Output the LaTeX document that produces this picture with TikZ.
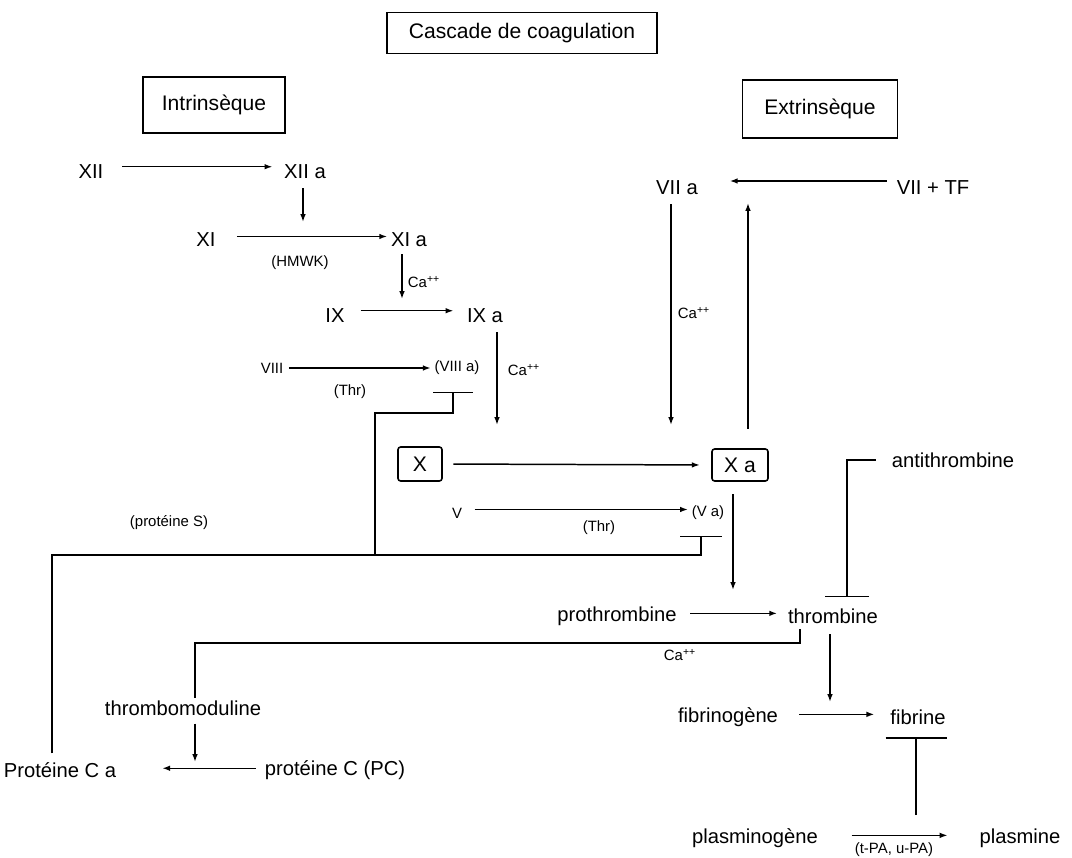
\documentclass[tikz,border=0pt]{standalone}
\usepackage{fontspec}
\setmainfont{Liberation Sans}
\usetikzlibrary{arrows.meta,calc}
\begin{document}
\begin{tikzpicture}[x=0.02cm,y=-0.02cm,
  lab/.style={inner sep=1pt,font=\fontsize{11.5}{13}\selectfont},
  sm/.style={inner sep=1pt,font=\fontsize{8.5}{10}\selectfont},
  hdr/.style={draw,line width=0.9pt,inner sep=0pt,font=\fontsize{12}{14}\selectfont},
  fbox/.style={draw,line width=0.9pt,rounded corners=1.5pt,inner sep=0pt,font=\fontsize{12}{14}\selectfont},
  rxn/.style={line width=0.85pt,-{Latex[length=4.5pt,width=3.2pt]}},
  inh/.style={line width=0.85pt}]
\useasboundingbox (0,0) rectangle (1072,858);

% header boxes
\node[hdr,minimum width=5.4cm,minimum height=0.82cm] (title) at (522,33) {Cascade de coagulation};
\node[hdr,minimum width=2.84cm,minimum height=1.12cm] (intr) at (214,105) {Intrinsèque};
\node[hdr,minimum width=3.1cm,minimum height=1.16cm] (extr) at (820,109) {Extrinsèque};

% intrinsic pathway
\node[lab] (XII) at (91,172) {XII};
\node[lab] (XIIa) at (305,172) {XII a};
\node[lab] (XI) at (206,240) {XI};
\node[lab] (XIa) at (409,240) {XI a};
\node[sm] (HMWK) at (300,263) {(HMWK)};
\node[sm] (Ca1) at (424,282) {Ca\textsuperscript{++}};
\node[lab] (IX) at (335,316) {IX};
\node[lab] (IXa) at (485,316) {IX a};
\node[sm] (VIII) at (272,368) {VIII};
\node[sm] (VIIIa) at (457,368) {(VIII a)};
\node[sm] (Thr1) at (350,392) {(Thr)};
\node[sm] (Ca2) at (524,370) {Ca\textsuperscript{++}};

% extrinsic pathway
\node[lab] (VIIa) at (677,188) {VII a};
\node[lab] (VIITF) at (933,188) {VII + TF};
\node[sm] (Ca3) at (694,313) {Ca\textsuperscript{++}};

% common pathway
\node[fbox,minimum width=0.88cm,minimum height=0.68cm] (X) at (420,464) {X};
\node[fbox,minimum width=1.12cm,minimum height=0.64cm] (Xa) at (740,465) {X a};
\node[sm] (V) at (457,513) {V};
\node[sm] (Va) at (708,513) {(V a)};
\node[sm] (Thr2) at (599,528) {(Thr)};
\node[sm] (protS) at (169,523) {(protéine S)};
\node[lab] (antithr) at (953,460) {antithrombine};
\node[lab] (prothr) at (617,616) {prothrombine};
\node[lab] (thr) at (833,616) {thrombine};
\node[sm] (Ca4) at (680,655) {Ca\textsuperscript{++}};
\node[lab] (thrmod) at (183,708) {thrombomoduline};
\node[lab] (fibgen) at (728,717) {fibrinogène};
\node[lab] (fib) at (918,717) {fibrine};
\node[lab] (PCa) at (60,770) {Protéine C a};
\node[lab] (PC) at (335,770) {protéine C (PC)};
\node[lab] (plasgen) at (755,838) {plasminogène};
\node[lab] (plas) at (1020,838) {plasmine};
\node[sm] (tPA) at (894,850) {(t-PA, u-PA)};

% reaction points
\coordinate (r1) at (303,222);
\coordinate (r2) at (402,299);
\coordinate (r3) at (497,425);
\coordinate (r4) at (671,425);
\coordinate (r5) at (748,203);
\coordinate (r6) at (733,590);
\coordinate (r7) at (830,702);
\coordinate (r8) at (195,762);
\coordinate (r9) at (916,815);
\coordinate (t1) at (800,643);
\coordinate (c0) at (52,555);
\coordinate (j1) at (375,555);
\coordinate (j2) at (701,555);
\coordinate (k1) at (453,413);
\coordinate (bVIIIa) at (453,392);
\coordinate (bVa) at (701,536);
\coordinate (bAT) at (847,597);

% horizontal reactions
\draw[rxn,shorten <=9.5pt,shorten >=5.5pt] ([yshift=3pt]XII.east) -- ([yshift=3pt]XIIa.west);
\draw[rxn,shorten <=11pt,shorten >=1pt] ([yshift=2pt]XI.east) -- ([yshift=2pt]XIa.west);
\draw[rxn,shorten <=8pt,shorten >=6.5pt] ([yshift=3pt]IX.east) -- ([yshift=3pt]IXa.west);
\draw[rxn,shorten <=2pt,shorten >=1pt] (VIII.east) -- (VIIIa.west);
\draw[rxn,shorten <=6pt,shorten >=6.5pt] (X.east) -- (Xa.west);
\draw[rxn,shorten <=6pt,shorten >=1pt] ([yshift=2pt]V.east) -- ([yshift=2pt]Va.west);
\draw[rxn,shorten <=4.5pt,shorten >=17pt] ([yshift=4pt]VIITF.west) -- ([yshift=4pt]VIIa.east);
\draw[rxn,shorten <=6.5pt,shorten >=5pt] ([yshift=1.5pt]prothr.east) -- ([yshift=1.5pt]thr.west);
\draw[rxn,shorten <=11pt,shorten >=8pt] ([yshift=1.5pt]fibgen.east) -- ([yshift=1.5pt]fib.west);
\draw[rxn,shorten <=4pt,shorten >=25pt] ([yshift=1pt]PC.west) -- ([yshift=1pt]PCa.east);
\draw[rxn,shorten <=18pt,shorten >=17pt] ([yshift=1.5pt]plasgen.east) -- ([yshift=1.5pt]plas.west);

% vertical arrows onto reactions
\draw[rxn,shorten <=4pt] (XIIa.south -| r1) -- (r1);
\draw[rxn,shorten <=3pt] (XIa.south -| r2) -- (r2);
\draw[rxn,shorten <=4pt] (IXa.south -| r3) -- (r3);
\draw[rxn,shorten <=4pt] (VIIa.south -| r4) -- (r4);
\draw[rxn,shorten <=11pt] (Xa.north -| r5) -- (r5);
\draw[rxn,shorten <=7pt] (Xa.south -| r6) -- (r6);
\draw[rxn,shorten <=5pt] (thr.south -| r7) -- (r7);
\draw[rxn,shorten <=3.5pt] (thrmod.south -| r8) -- (r8);

% thrombine - thrombomoduline
\draw[inh,shorten <=2pt] (thr.south -| t1) -- (t1) -| (thrmod.north -| r8);

% inhibitions
\draw[inh,shorten <=8pt,-{Bar[width=0.88cm]}] (antithr.west) -| (bAT);
\draw[inh,shorten >=6pt,-{Bar[width=1.22cm]}] (r9) -- (fib.south -| r9);
\draw[inh,shorten <=4pt,-{Bar[width=0.84cm]}] (PCa.north -| c0) -- (c0) -- (j2) -- (bVa);
\draw[inh,-{Bar[width=0.8cm]}] (j1) |- (k1) -- (bVIIIa);
\end{tikzpicture}
\end{document}
